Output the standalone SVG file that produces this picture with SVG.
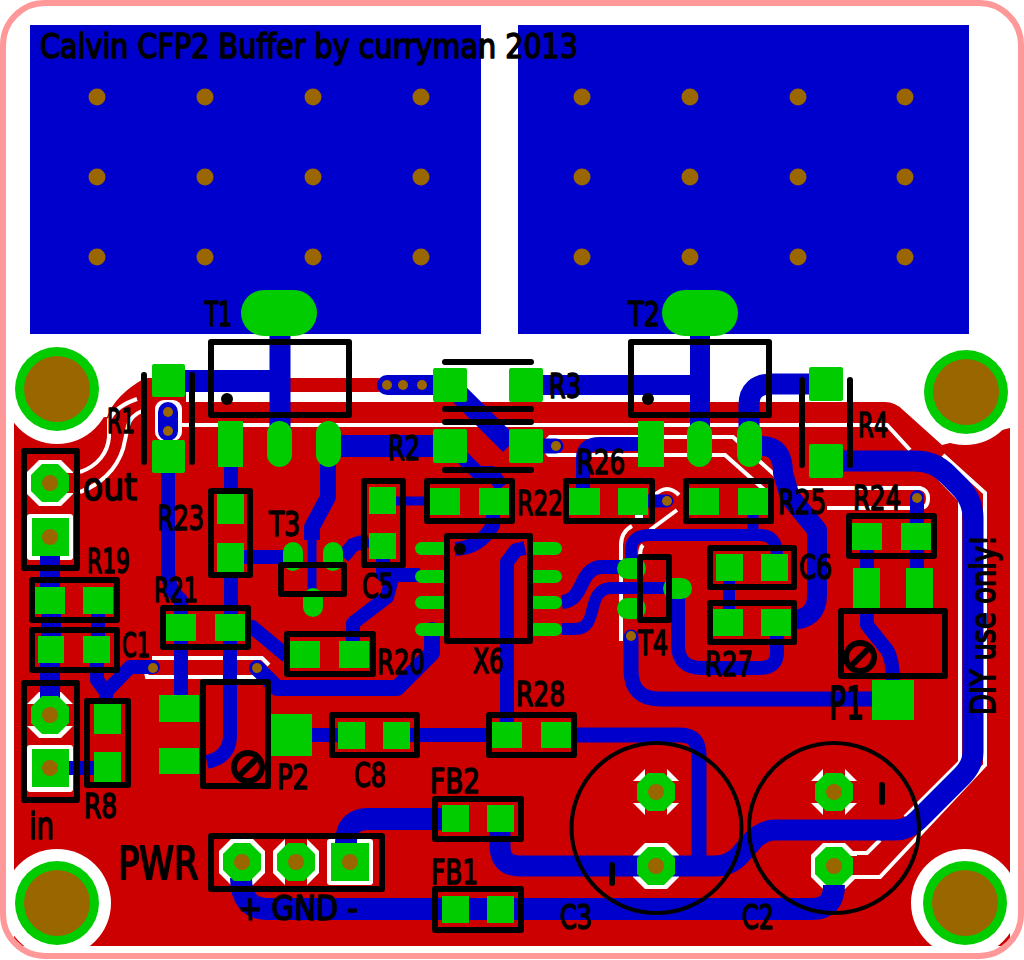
<svg xmlns="http://www.w3.org/2000/svg" xmlns:xlink="http://www.w3.org/1999/xlink" width="1024" height="960" viewBox="0 0 1024 960">
<style>
.cu{fill:#cc0000}
.w{fill:none;stroke:#fff;stroke-width:4}
.wf{fill:#fff}
.t{fill:none;stroke:#0000cc;stroke-width:14;stroke-linecap:butt;stroke-linejoin:round}
.n{stroke-width:9}
.m{stroke-width:20}
.b{stroke-width:22}
.v{fill:#0000cc}
.p{fill:#00cc00}
.h{fill:#996600}
.s{fill:none;stroke:#000;stroke-width:6;stroke-linejoin:round;stroke-linecap:round}
.d{fill:#000}
.l{font-family:"DejaVu Sans Condensed","Liberation Sans",sans-serif;font-size:34px;fill:#000;stroke:#000;stroke-width:1.5;stroke-linejoin:round}
.xl{font-size:44px;stroke-width:1.8}
.ml{font-size:38px}
</style>
<defs>
<polygon id="oct" class="p" points="-19,-8 -8,-19 8,-19 19,-8 19,8 8,19 -8,19 -19,8"/>
<polygon id="octw" class="wf" points="-23,-11 -11,-23 11,-23 23,-11 23,11 11,23 -11,23 -23,11"/>
<g id="thermal"><use xlink:href="#octw"/><rect class="cu" x="-11" y="-25" width="22" height="50"/><rect class="cu" x="-25" y="-11" width="50" height="22"/></g>
<g id="mount"><circle r="42" class="p"/><circle r="33" class="h"/></g>
</defs>
<rect x="0" y="0" width="1024" height="960" fill="#fff"/>
<g id="copper">
<rect x="30" y="25" width="451" height="309" class="v"/>
<rect x="518" y="25" width="451" height="309" class="v"/>
<path class="cu" d="M14,421 L107,417 Q115,395 145,378 L378,378 A7,7 0 0 1 378,392 L186,392 L186,402 L885,402 Q895,402 903,410 L942,445 L1010,428 L1010,946 L14,946 Z"/>
<circle cx="57" cy="390" r="54" class="wf"/>
<circle cx="965" cy="391" r="54" class="wf"/>
<circle cx="57" cy="903" r="54" class="wf"/>
<circle cx="965" cy="903" r="54" class="wf"/>
</g>
<rect id="outline" x="3" y="3" width="1018" height="953" rx="42" fill="none" stroke="#ff9999" stroke-width="6"/>
<g id="clearance">
<rect x="155" y="400" width="27" height="41" rx="9" class="wf"/>
<path class="w" d="M182,425 L887,425 L910,450"/>
<path class="w" d="M80,472 C98,466 108,452 109,437 L109,420 Q116,406 137,399"/>
<path class="w" d="M80,492 C108,482 122,460 125,440 L128,426 Q130,416 142,411"/>
<path class="w" d="M643,437 L550,437 Q540,446 549,455 L725,455 L768,493"/>
<path class="w" d="M643,437 L733,437 L777,477 L790,488 L920,488 Q928,490 928,498 Q928,508 920,508 L827,508"/>
<path class="w" d="M677,510 L650,530 M655,495 Q667,483 679,495 M635,516 L643,516"/>
<path class="w" d="M632,526 Q621,532 621,545 L621,641 M643,545 Q640,548 640,557"/>
<path class="w" d="M933,472 L960,500 L960,762 L905,817"/>
<path class="w" d="M943,455 L985,493 L985,765 L880,877 L853,877 L845,884"/>
<path class="w" d="M880,840 L867,853 L853,853"/>
<path class="w" d="M152,658 L262,658 L269,665 M145,667 L147,677 L262,677"/>
<use xlink:href="#octw" x="50" y="483"/><rect class="cu" x="66" y="473" width="14" height="20"/>
<rect x="27" y="514" width="46" height="46" rx="3" class="wf"/>
<use xlink:href="#octw" x="50" y="715"/><rect class="cu" x="26" y="704" width="48" height="22"/>
<rect x="27" y="745" width="46" height="47" rx="3" class="wf"/>
<use xlink:href="#octw" x="242" y="862"/>
<use xlink:href="#octw" x="296" y="862"/><rect class="cu" x="285" y="838" width="22" height="48"/>
<rect x="327" y="839" width="46" height="46" rx="3" class="wf"/>
<use xlink:href="#thermal" x="656" y="792"/>
<use xlink:href="#octw" x="656" y="866"/>
<use xlink:href="#thermal" x="834" y="792"/>
<use xlink:href="#octw" x="834" y="866"/><rect class="cu" x="851" y="856" width="9" height="19"/>
</g>
<g id="connectors">
<path class="t" style="stroke-width:22" d="M185,381 L280,381"/>
<path class="t" d="M280,336 L280,430" style="stroke-width:21"/>
<path class="t" style="stroke-linecap:round;stroke-width:20" d="M387,385 L433,385"/>
<path class="t m" d="M543,385 L700,385"/>
<path class="t m" d="M700,336 L700,430"/>
<path class="t m" d="M450,385 L510,445"/>
<path class="t b" d="M341,446 L433,446"/>
<path class="t" d="M463,458 L478,473 L492,473 L502,487"/>
<path class="t" d="M493,515 L493,525 Q480,548 455,549"/>
<path class="t n" d="M396,501 L430,501"/>
<path class="t" d="M343,557 L353,545 L369,540"/>
<path class="t" d="M383,559 L383,575 L420,575"/>
<path class="t" d="M415,575 L393,575 L387,597 L353,623 L353,641"/>
<path class="t m" style="stroke-width:16" d="M328,462 L328,497 L312,527 L312,540"/>
<path class="t n" d="M312,538 L312,595"/>
<path class="t" d="M231,465 L231,494"/>
<path class="t" d="M231,570 L231,614"/>
<path class="t" d="M244,557 L285,557"/>
<path class="t" d="M168,473 L168,570 Q168,590 181,600 L181,616"/>
<path class="t" style="stroke-linecap:round;stroke-width:20" d="M168,412 L168,431"/>
<path class="t m" d="M50,556 L50,590"/>
<path class="t m" d="M51,612 L51,638"/>
<path class="t" d="M98,612 L98,638"/>
<path class="t m" d="M50,662 L50,700"/>
<path class="t" d="M69,768 L96,768"/>
<path class="t" style="stroke-linecap:round" d="M153,667 L130,667 L106,692 L97,680 L97,662"/>
<path class="t" d="M106,690 L106,702"/>
<path class="t" d="M181,640 L181,697"/>
<path class="t" d="M230,640 L230,735 Q230,757 207,762"/>
<path class="t" d="M312,735 L338,735"/>
<path class="t" d="M245,627 L252,627 L287,656"/>
<path class="t" style="stroke-linecap:round;stroke-width:16" d="M257,668 L277,688 L397,688 L432,653 L432,630"/>
<path class="t" d="M525,548 L516,550 L507,562 L507,724"/>
<path class="t" d="M562,602 C585,600 578,570 600,567 L622,567"/>
<path class="t n" style="stroke-width:12" d="M562,629 L575,629 C600,629 585,590 610,588 L665,588"/>
<path class="t" d="M678,595 L678,645 Q678,668 702,668 L760,668 Q777,668 777,652 L777,634"/>
<path class="t m" style="stroke-width:15;stroke-linecap:round" d="M631,637 L631,670 Q631,699 660,699 L875,699"/>
<path class="t" style="stroke-width:12" d="M631,565 L631,550 Q631,535 650,535 L760,535 Q777,535 777,555"/>
<path class="t n" style="stroke-width:11" d="M753,512 L753,535"/>
<path class="t" d="M729,579 L729,611" style="stroke-width:12"/>
<path class="t m" d="M762,446 Q783,446 783,473 L790,497 L817,530 L817,595 Q817,620 790,620"/>
<path class="t m" style="stroke-width:21" d="M749,432 L749,405 Q749,384 772,384 L812,384"/>
<path class="t b" d="M841,461 L915,461 Q935,461 948,475 L960,487 Q973,500 973,518 L973,752 Q973,765 962,776 L918,820 Q908,830 895,830 L775,830 Q765,830 755,838 L740,855 Q730,866 715,866 L520,866 Q500,866 500,846 L500,830" style="stroke-width:21"/>
<path class="t" style="stroke-linecap:round" d="M583,487 L583,458 Q583,444 600,444 L640,444"/>
<path class="t" style="stroke-linecap:round;stroke-width:15" d="M541,446 L556,446"/>
<path class="t" style="stroke-width:13;stroke-linecap:round" d="M648,501 L667,501"/>
<path class="t" style="stroke-linecap:round" d="M917,497 L917,524"/>
<path class="t" d="M917,549 L917,569"/>
<path class="t" d="M867,549 L867,569"/>
<path class="t" d="M867,606 L867,625 L887,650 Q893,660 893,682"/>
<path class="t" d="M576,735 L680,735 Q699,735 699,755 L699,866" style="stroke-width:15"/>
<path class="t" d="M410,735 L494,735"/>
<path class="t b" d="M241,878 Q241,909 268,909 L812,909 Q834,909 834,885"/>
<path class="t b" d="M442,819 L368,819 Q346,819 346,843"/>
</g>
<g id="tabs" class="h">
<circle cx="97" cy="97" r="8.5"/><circle cx="205" cy="97" r="8.5"/><circle cx="313" cy="97" r="8.5"/><circle cx="421" cy="97" r="8.5"/>
<circle cx="97" cy="177" r="8.5"/><circle cx="205" cy="177" r="8.5"/><circle cx="313" cy="177" r="8.5"/><circle cx="421" cy="177" r="8.5"/>
<circle cx="97" cy="257" r="8.5"/><circle cx="205" cy="257" r="8.5"/><circle cx="313" cy="257" r="8.5"/><circle cx="421" cy="257" r="8.5"/>
<circle cx="582" cy="97" r="8.5"/><circle cx="690" cy="97" r="8.5"/><circle cx="798" cy="97" r="8.5"/><circle cx="905" cy="97" r="8.5"/>
<circle cx="582" cy="177" r="8.5"/><circle cx="690" cy="177" r="8.5"/><circle cx="798" cy="177" r="8.5"/><circle cx="905" cy="177" r="8.5"/>
<circle cx="582" cy="257" r="8.5"/><circle cx="690" cy="257" r="8.5"/><circle cx="798" cy="257" r="8.5"/><circle cx="905" cy="257" r="8.5"/>
</g>
<g id="vias" class="h">
<circle cx="168" cy="412" r="5"/><circle cx="168" cy="431" r="5"/>
<circle cx="387" cy="385" r="5"/><circle cx="403" cy="385" r="5"/><circle cx="422" cy="385" r="5"/>
<circle cx="556" cy="446" r="5"/><circle cx="667" cy="501" r="5"/><circle cx="631" cy="636" r="5"/>
<circle cx="917" cy="498" r="5"/><circle cx="153" cy="668" r="5"/><circle cx="257" cy="668" r="5"/>
</g>
<g id="holes">
<use xlink:href="#mount" x="57" y="389"/><use xlink:href="#mount" x="966" y="392"/><use xlink:href="#mount" x="57" y="903"/><use xlink:href="#mount" x="965" y="903"/>
</g>
<text class="l" id="title" x="40" y="58" textLength="538" lengthAdjust="spacingAndGlyphs">Calvin CFP2 Buffer by curryman 2013</text>
<g id="T1"><rect class="p" x="241" y="290" width="76" height="46" rx="23"/><rect class="p" x="218" y="421" width="25" height="46"/><rect class="p" x="267" y="421" width="25" height="46" rx="12.5"/><rect class="p" x="316" y="421" width="25" height="46" rx="12.5"/><rect class="s" x="211" y="342" width="138" height="73"/><circle class="d" cx="227" cy="399" r="6"/><text class="l" x="205" y="326" textLength="27" lengthAdjust="spacingAndGlyphs">T1</text></g>
<g id="T2"><rect class="p" x="662" y="290" width="76" height="46" rx="23"/><rect class="p" x="638" y="421" width="26" height="46"/><rect class="p" x="687" y="421" width="25" height="46" rx="12.5"/><rect class="p" x="737" y="421" width="25" height="46" rx="12.5"/><rect class="s" x="631" y="342" width="138" height="73"/><circle class="d" cx="648" cy="399" r="6"/><text class="l" x="628" y="326" textLength="32" lengthAdjust="spacingAndGlyphs">T2</text></g>
<g id="R1"><rect class="p" x="152" y="364" width="33" height="33" rx="2"/><rect class="p" x="152" y="440" width="33" height="33" rx="2"/><path class="s" d="M144,375 L144,462 M192,375 L192,462"/><text class="l" x="107" y="433" textLength="28" lengthAdjust="spacingAndGlyphs">R1</text></g>
<g id="R3"><rect class="p" x="433" y="368" width="34" height="34" rx="2"/><rect class="p" x="509" y="368" width="34" height="34" rx="2"/><path class="s" d="M445,362 L531,362 M445,409 L531,409"/><text class="l" x="549" y="398" textLength="32" lengthAdjust="spacingAndGlyphs">R3</text></g>
<g id="R2"><rect class="p" x="433" y="429" width="34" height="34" rx="2"/><rect class="p" x="509" y="429" width="34" height="34" rx="2"/><path class="s" d="M445,422 L531,422 M445,470 L531,470"/><text class="l" x="388" y="460" textLength="32" lengthAdjust="spacingAndGlyphs">R2</text></g>
<g id="R4"><rect class="p" x="809" y="367" width="34" height="34" rx="2"/><rect class="p" x="809" y="444" width="34" height="34" rx="2"/><path class="s" d="M802,380 L802,465 M850,380 L850,465"/><text class="l" x="858" y="437" textLength="30" lengthAdjust="spacingAndGlyphs">R4</text></g>
<g id="out"><rect class="s" x="24" y="451" width="53" height="117"/><use xlink:href="#oct" x="50" y="483"/><rect class="p" x="32" y="518" width="37" height="38"/><circle class="h" cx="50" cy="483" r="8"/><circle class="h" cx="50" cy="537" r="8"/><text class="l ml" x="83" y="500" textLength="54" lengthAdjust="spacingAndGlyphs">out</text></g>
<g id="in"><rect class="s" x="24" y="683" width="53" height="117"/><use xlink:href="#oct" x="50" y="715"/><rect class="p" x="32" y="749" width="37" height="38"/><circle class="h" cx="50" cy="715" r="8"/><circle class="h" cx="50" cy="768" r="8"/><text class="l ml" x="29" y="839" textLength="25" lengthAdjust="spacingAndGlyphs">in</text></g>
<g id="R19"><rect class="p" x="34" y="587" width="31" height="27"/><rect class="p" x="83" y="587" width="30" height="27"/><rect class="s" x="32" y="580" width="85" height="40"/><text class="l" x="87" y="573" textLength="43" lengthAdjust="spacingAndGlyphs">R19</text></g>
<g id="C1"><rect class="p" x="38" y="636" width="26" height="27"/><rect class="p" x="83" y="636" width="27" height="27"/><rect class="s" x="32" y="630" width="85" height="40"/><text class="l" x="122" y="657" textLength="28" lengthAdjust="spacingAndGlyphs">C1</text></g>
<g id="R8"><rect class="p" x="94" y="704" width="27" height="30"/><rect class="p" x="94" y="752" width="27" height="30"/><rect class="s" x="87" y="701" width="41" height="84"/><text class="l" x="84" y="818" textLength="33" lengthAdjust="spacingAndGlyphs">R8</text></g>
<g id="R23"><rect class="p" x="217" y="494" width="27" height="30"/><rect class="p" x="217" y="543" width="27" height="30"/><rect class="s" x="211" y="491" width="39" height="84"/><text class="l" x="157" y="530" textLength="47" lengthAdjust="spacingAndGlyphs">R23</text></g>
<g id="T3"><rect class="p" x="283" y="542" width="20" height="29" rx="10"/><rect class="p" x="323" y="542" width="20" height="29" rx="10"/><rect class="p" x="303" y="588" width="20" height="29" rx="10"/><rect class="s" x="281" y="565" width="63" height="29"/><text class="l" x="269" y="536" textLength="31" lengthAdjust="spacingAndGlyphs">T3</text></g>
<g id="C5"><rect class="p" x="369" y="487" width="27" height="27"/><rect class="p" x="369" y="533" width="27" height="26"/><rect class="s" x="364" y="481" width="39" height="84"/><text class="l" x="362" y="598" textLength="32" lengthAdjust="spacingAndGlyphs">C5</text></g>
<g id="R22"><rect class="p" x="430" y="488" width="30" height="27"/><rect class="p" x="479" y="488" width="30" height="27"/><rect class="s" x="427" y="481" width="85" height="40"/><text class="l" x="517" y="515" textLength="46" lengthAdjust="spacingAndGlyphs">R22</text></g>
<g id="R26"><rect class="p" x="569" y="488" width="31" height="27"/><rect class="p" x="618" y="488" width="30" height="27"/><rect class="s" x="566" y="481" width="86" height="40"/><text class="l" x="577" y="474" textLength="48" lengthAdjust="spacingAndGlyphs">R26</text></g>
<g id="R25"><rect class="p" x="689" y="488" width="30" height="27"/><rect class="p" x="738" y="488" width="30" height="27"/><rect class="s" x="686" y="481" width="85" height="40"/><text class="l" x="778" y="514" textLength="48" lengthAdjust="spacingAndGlyphs">R25</text></g>
<g id="R24"><rect class="p" x="852" y="523" width="30" height="27"/><rect class="p" x="901" y="523" width="30" height="27"/><rect class="s" x="849" y="516" width="85" height="40"/><text class="l" x="853" y="510" textLength="48" lengthAdjust="spacingAndGlyphs">R24</text></g>
<g id="R21"><rect class="p" x="166" y="614" width="30" height="27"/><rect class="p" x="215" y="614" width="30" height="27"/><rect class="s" x="163" y="608" width="85" height="39"/><text class="l" x="154" y="602" textLength="44" lengthAdjust="spacingAndGlyphs">R21</text></g>
<g id="R20"><rect class="p" x="290" y="641" width="30" height="27"/><rect class="p" x="339" y="641" width="30" height="27"/><rect class="s" x="287" y="634" width="86" height="40"/><text class="l" x="377" y="674" textLength="48" lengthAdjust="spacingAndGlyphs">R20</text></g>
<g id="X6"><rect class="p" x="415" y="542" width="34" height="13" rx="6.5"/><rect class="p" x="415" y="570" width="34" height="13" rx="6.5"/><rect class="p" x="415" y="596" width="34" height="13" rx="6.5"/><rect class="p" x="415" y="623" width="34" height="13" rx="6.5"/><rect class="p" x="528" y="542" width="34" height="13" rx="6.5"/><rect class="p" x="528" y="570" width="34" height="13" rx="6.5"/><rect class="p" x="528" y="596" width="34" height="13" rx="6.5"/><rect class="p" x="528" y="623" width="34" height="13" rx="6.5"/><rect class="s" x="447" y="536" width="83" height="105"/><circle class="d" cx="460" cy="549" r="6"/><text class="l" x="473" y="673" textLength="31" lengthAdjust="spacingAndGlyphs">X6</text></g>
<g id="T4"><rect class="p" x="617" y="558" width="29" height="21" rx="10.5"/><rect class="p" x="617" y="598" width="29" height="21" rx="10.5"/><rect class="p" x="663" y="578" width="29" height="21" rx="10.5"/><rect class="s" x="640" y="557" width="29" height="63"/><text class="l" x="638" y="655" textLength="30" lengthAdjust="spacingAndGlyphs">T4</text></g>
<g id="C6"><rect class="p" x="716" y="554" width="27" height="27"/><rect class="p" x="761" y="554" width="27" height="27"/><rect class="s" x="710" y="548" width="84" height="39"/><text class="l" x="799" y="579" textLength="33" lengthAdjust="spacingAndGlyphs">C6</text></g>
<g id="R27"><rect class="p" x="712" y="609" width="31" height="27"/><rect class="p" x="761" y="609" width="31" height="27"/><rect class="s" x="710" y="603" width="84" height="39"/><text class="l" x="705" y="676" textLength="48" lengthAdjust="spacingAndGlyphs">R27</text></g>
<g id="P1"><rect class="p" x="853" y="568" width="27" height="40"/><rect class="p" x="906" y="568" width="27" height="40"/><rect class="p" x="872" y="680" width="42" height="40"/><rect class="s" x="841" y="611" width="104" height="65"/><circle class="s" cx="860" cy="657" r="14"/><path class="s" d="M852,665 L869,648"/><text class="l xl" x="829" y="719" textLength="35" lengthAdjust="spacingAndGlyphs">P1</text></g>
<g id="P2"><rect class="p" x="159" y="695" width="40" height="27"/><rect class="p" x="159" y="748" width="40" height="26"/><rect class="p" x="271" y="714" width="41" height="42"/><rect class="s" x="203" y="682" width="65" height="104"/><circle class="s" cx="248" cy="767" r="14"/><path class="s" d="M240,775 L257,758"/><text class="l" x="277" y="789" textLength="32" lengthAdjust="spacingAndGlyphs">P2</text></g>
<g id="C8"><rect class="p" x="338" y="722" width="27" height="27"/><rect class="p" x="383" y="722" width="27" height="27"/><rect class="s" x="332" y="715" width="85" height="40"/><text class="l" x="354" y="787" textLength="32" lengthAdjust="spacingAndGlyphs">C8</text></g>
<g id="R28"><rect class="p" x="492" y="722" width="30" height="26"/><rect class="p" x="541" y="722" width="30" height="26"/><rect class="s" x="489" y="715" width="85" height="40"/><text class="l" x="516" y="706" textLength="49" lengthAdjust="spacingAndGlyphs">R28</text></g>
<g id="FB2"><rect class="p" x="442" y="805" width="27" height="27"/><rect class="p" x="487" y="805" width="27" height="27"/><rect class="s" x="435" y="799" width="86" height="40"/><text class="l" x="430" y="793" textLength="50" lengthAdjust="spacingAndGlyphs">FB2</text></g>
<g id="FB1"><rect class="p" x="442" y="896" width="27" height="27"/><rect class="p" x="487" y="896" width="27" height="27"/><rect class="s" x="435" y="889" width="86" height="41"/><text class="l" x="431" y="884" textLength="47" lengthAdjust="spacingAndGlyphs">FB1</text></g>
<g id="PWR"><rect class="s" x="211" y="836" width="171" height="53"/><use xlink:href="#oct" x="242" y="862"/><use xlink:href="#oct" x="296" y="862"/><rect class="p" x="331" y="843" width="38" height="38"/><circle class="h" cx="242" cy="862" r="8"/><circle class="h" cx="296" cy="862" r="8"/><circle class="h" cx="350" cy="862" r="8"/><text class="l xl" x="118" y="879" textLength="80" lengthAdjust="spacingAndGlyphs">PWR</text><text class="l" x="238" y="920" textLength="120" lengthAdjust="spacingAndGlyphs" xml:space="preserve">+ GND -</text></g>
<g id="C3"><circle cx="656.5" cy="828" r="85" fill="none" stroke="#000" stroke-width="4"/><use xlink:href="#oct" x="656" y="792"/><use xlink:href="#oct" x="656" y="866"/><circle class="h" cx="656" cy="792" r="8"/><circle class="h" cx="656" cy="866" r="8"/><path class="s" d="M612,865 L612,883"/><text class="l" x="560" y="929" textLength="32" lengthAdjust="spacingAndGlyphs">C3</text></g>
<g id="C2"><circle cx="834" cy="828" r="85" fill="none" stroke="#000" stroke-width="4"/><use xlink:href="#oct" x="834" y="792"/><use xlink:href="#oct" x="834" y="866"/><circle class="h" cx="834" cy="792" r="8"/><circle class="h" cx="834" cy="866" r="8"/><path class="s" d="M882,785 L882,802"/><text class="l" x="742" y="929" textLength="32" lengthAdjust="spacingAndGlyphs">C2</text></g>
<text class="l" id="note" transform="translate(995,715) rotate(-90)" textLength="180" lengthAdjust="spacingAndGlyphs">DIY use only!</text>
</svg>
